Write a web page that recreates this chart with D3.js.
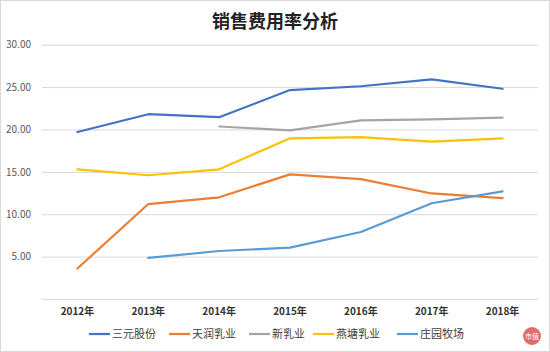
<!DOCTYPE html>
<html><head><meta charset="utf-8">
<script src="https://cdn.jsdelivr.net/npm/d3@7"></script>
<style>body{margin:0;background:#fff}svg{display:block}</style>
</head><body><svg id="c" width="550" height="352"></svg>
<script>
const years = ["2012年","2013年","2014年","2015年","2016年","2017年","2018年"];
const seriesNames = ["三元股份","天润乳业","新乳业","燕塘乳业","庄园牧场"];
const sanyuan  = [19.7, 21.8, 21.45, 24.65, 25.1, 25.9, 24.8];
const tianrun  = [3.6, 11.2, 12.0, 14.7, 14.15, 12.45, 11.9];
const xinruye  = [null, null, 20.35, 19.9, 21.07, 21.2, 21.4];
const yantang  = [15.3, 14.6, 15.3, 18.96, 19.1, 18.56, 18.96];
const zhuangyuan = [null, 4.85, 5.66, 6.06, 7.9, 11.3, 12.7];
const yTicks = [0,5,10,15,20,25,30];
const colors = ["#4472C4","#ED7D31","#A5A5A5","#FFC000","#5B9BD5"];
const allSeries = [sanyuan, tianrun, xinruye, yantang, zhuangyuan];

const svg = d3.select("#c");
const font = "'Microsoft YaHei','Noto Sans CJK SC',sans-serif";
svg.append("rect").attr("x",0.5).attr("y",0.5).attr("width",549).attr("height",351)
  .attr("fill","#fff").attr("stroke","#d9d9d9");

const x = d3.scaleBand().domain(years).range([42,538]);
const y = d3.scaleLinear().domain([0,30]).range([299,44.7]);

svg.append("text").attr("x",275).attr("y",28).attr("text-anchor","middle")
  .attr("font-family",font).attr("font-weight","bold").attr("font-size",18)
  .attr("fill","#222").text("销售费用率分析");

const gy = svg.append("g").attr("transform","translate(42,0)")
  .call(d3.axisLeft(y).tickValues(yTicks).tickSize(-496).tickFormat(d=>d===0?"":d3.format(".2f")(d)));
gy.select(".domain").remove();
gy.selectAll(".tick line").attr("stroke","#d9d9d9");
gy.selectAll(".tick text").attr("x",-11).attr("font-family",font).attr("font-size",10).attr("fill","#595959");

const gx = svg.append("g").attr("transform","translate(0,299)")
  .call(d3.axisBottom(x).tickSize(0).tickPadding(9));
gx.select(".domain").attr("stroke","#d9d9d9");
gx.selectAll(".tick text").attr("font-family",font).attr("font-size",10).attr("font-weight","bold").attr("fill","#333");

const line = d3.line().defined(d=>d.v!=null).x(d=>x(d.k)+x.bandwidth()/2).y(d=>y(d.v));
allSeries.forEach((s,i)=>{
  svg.append("path").datum(years.map((k,j)=>({k,v:s[j]})))
    .attr("d",line).attr("fill","none").attr("stroke",colors[i]).attr("stroke-width",2.2)
    .attr("stroke-linejoin","round").attr("stroke-linecap","round");
});

const legX = [89,169,249,313,397];
const lg = svg.append("g");
seriesNames.forEach((n,i)=>{
  lg.append("line").attr("x1",legX[i]).attr("x2",legX[i]+21).attr("y1",334).attr("y2",334)
    .attr("stroke",colors[i]).attr("stroke-width",2.2);
  lg.append("text").attr("x",legX[i]+23).attr("y",338).attr("font-family",font)
    .attr("font-size",11).attr("fill","#404040").text(n);
});

// logo mark
svg.append("circle").attr("cx",532).attr("cy",336).attr("r",9).attr("fill","#d9534f").attr("opacity",0.85);
svg.append("text").attr("x",532).attr("y",339).attr("text-anchor","middle").attr("font-family",font)
  .attr("font-size",7).attr("fill","#fff").text("市值");
</script></body></html>
